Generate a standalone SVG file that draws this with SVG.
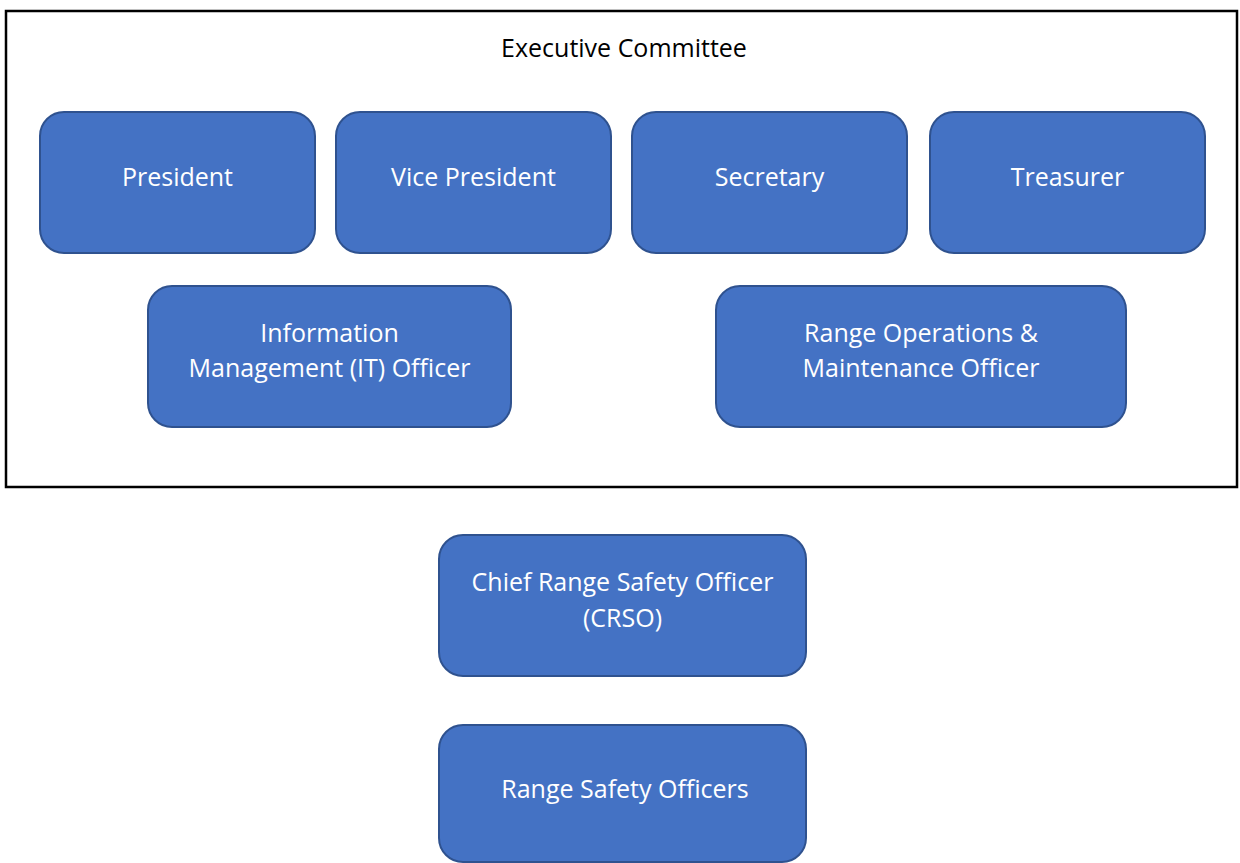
<svg xmlns="http://www.w3.org/2000/svg" width="1240" height="863" viewBox="0 0 1240 863">
<style>
.box{fill:#4472C4;stroke:#2F528F;stroke-width:2}
.t{font-family:"Open Sans","Liberation Sans",sans-serif;font-size:25px;fill:#ffffff;text-anchor:middle}
.h{font-family:"Open Sans","Liberation Sans",sans-serif;font-size:25px;fill:#000000;text-anchor:middle}
</style>
<rect width="1240" height="863" fill="#ffffff"/>
<g id="exec">
<rect x="6" y="11" width="1231" height="476" fill="none" stroke="#000000" stroke-width="2.5"/>
<text class="h" x="624" y="57">Executive Committee</text>
</g>
<g id="president"><rect class="box" x="40" y="112" width="275" height="141" rx="24"/><text class="t" x="177.5" y="186">President</text></g>
<g id="vice"><rect class="box" x="336" y="112" width="275" height="141" rx="24"/><text class="t" x="473.5" y="186">Vice President</text></g>
<g id="secretary"><rect class="box" x="632" y="112" width="275" height="141" rx="24"/><text class="t" x="769.5" y="186">Secretary</text></g>
<g id="treasurer"><rect class="box" x="930" y="112" width="275" height="141" rx="24"/><text class="t" x="1067.5" y="186">Treasurer</text></g>
<g id="it"><rect class="box" x="148" y="286" width="363" height="141" rx="24"/><text class="t" x="329.5" y="342">Information</text><text class="t" x="329.5" y="377">Management (IT) Officer</text></g>
<g id="rangeops"><rect class="box" x="716" y="286" width="410" height="141" rx="24"/><text class="t" x="921" y="342">Range Operations &amp;</text><text class="t" x="921" y="377">Maintenance Officer</text></g>
<g id="crso"><rect class="box" x="439" y="535" width="367" height="141" rx="24"/><text class="t" x="622.5" y="591">Chief Range Safety Officer</text><text class="t" x="622.5" y="627">(CRSO)</text></g>
<g id="rso"><rect class="box" x="439" y="725" width="367" height="137" rx="24"/><text class="t" x="625" y="798">Range Safety Officers</text></g>
<g id="connectors"></g>
</svg>
